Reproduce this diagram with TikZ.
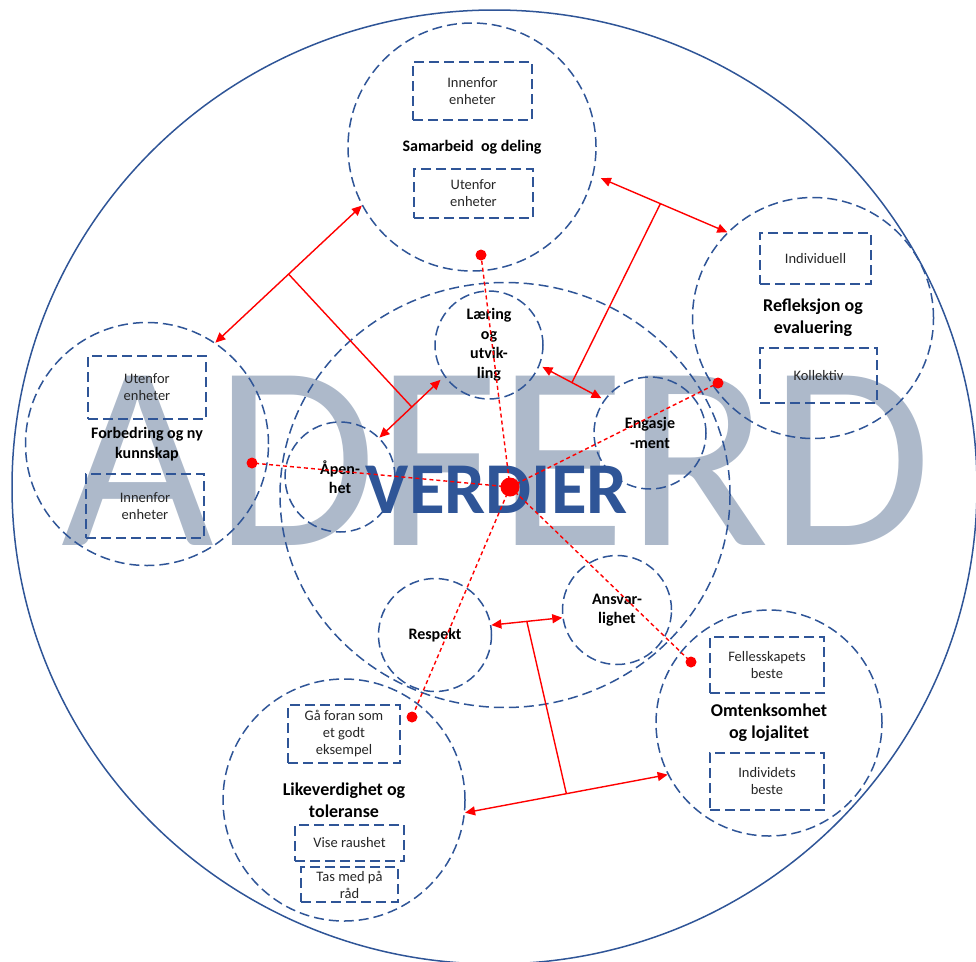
\documentclass[tikz,border=0pt]{standalone}
\usepackage{fontspec}
\setmainfont{Carlito}
\usetikzlibrary{arrows.meta,shapes.geometric}
\definecolor{kant}{RGB}{47,85,151}
\definecolor{vannmerke}{RGB}{173,185,202}
\definecolor{rod}{RGB}{255,0,0}
\begin{document}
\begin{tikzpicture}[x=1pt,y=-1pt,
    ring/.style={draw=kant,line width=1.5pt,dash pattern=on 10pt off 5pt,circle,inner sep=0pt,align=center,font=\bfseries\fontsize{18}{22}\selectfont},
    liten/.style={ring,font=\bfseries\fontsize{16}{19.5}\selectfont},
    boks/.style={draw=kant,line width=1.5pt,dash pattern=on 10pt off 5pt,rectangle,inner sep=0pt,align=center,text=black!85,font=\fontsize{14.5}{17}\selectfont},
    toveis/.style={draw=rod,line width=1.4pt,{Triangle[length=10pt,width=9pt]}-{Triangle[length=10pt,width=9pt]}},
    strek/.style={draw=rod,line width=1.4pt},
    stiplet/.style={draw=rod,line width=1.4pt,dash pattern=on 4pt off 3pt},
    prikk/.style={circle,fill=rod,inner sep=0pt,minimum size=11pt}]
        \useasboundingbox (0,0) rectangle (976,961);
        % bakgrunn
        \node[anchor=base west,inner sep=0pt,text=vannmerke,font=\fontsize{264}{264}\selectfont] (adferd) at (61,545) {ADFERD};
        \draw[draw=kant,line width=1.5pt] (494.5,487) ellipse [x radius=482.5pt, y radius=477pt];
        \node[draw=kant,line width=1.5pt,dash pattern=on 10pt off 5pt,ellipse,minimum width=450pt,minimum height=425pt,inner sep=0pt] (verdier) at (505,495) {};
        \node[anchor=base,inner sep=0pt,text=kant,font=\bfseries\fontsize{73}{73}\selectfont] (verditekst) at (497,513) {VERDIER};
        % store sirkler
        \node[ring,minimum size=248pt,font=\bfseries\fontsize{16}{19.5}\selectfont] (samarbeid) at (472,147) {Samarbeid~ og deling};
        \node[ring,minimum size=241pt] (refleksjon) at (813,318) {Refleksjon og\\evaluering};
        \node[ring,minimum size=243pt,font=\bfseries\fontsize{16}{19.5}\selectfont] (forbedring) at (147,444) {Forbedring og ny\\kunnskap};
        \node[ring,minimum size=242pt] (likeverdighet) at (344,800) {Likeverdighet og\\toleranse};
        \node[ring,minimum size=226pt] (omtenksomhet) at (769,723) {Omtenksomhet\\og lojalitet};
        % verdier
        \node[liten,minimum size=108pt] (laering) at (489,345) {\raisebox{-2pt}{\begin{tabular}{@{}c@{}}Læring\\og\\utvik-\\ling\end{tabular}}};
        \node[liten,minimum size=112pt] (engasjement) at (650,433) {Engasje\\-ment};
        \node[liten,minimum size=110pt] (apenhet) at (340,477) {Åpen-\\het};
        \node[liten,minimum size=113pt] (respekt) at (435,635) {Respekt};
        \node[liten,minimum size=109pt] (ansvarlighet) at (617,610) {Ansvar-\\lighet};
        % bokser
        \node[boks,minimum width=119pt,minimum height=58pt] (inn1) at (472.5,91) {Innenfor\\enheter};
        \node[boks,minimum width=119pt,minimum height=49pt] (ut1) at (473.5,193.5) {Utenfor\\enheter};
        \node[boks,minimum width=111pt,minimum height=51pt] (individuell) at (815.5,258.5) {Individuell};
        \node[boks,minimum width=117pt,minimum height=55pt] (kollektiv) at (818.5,375.5) {Kollektiv};
        \node[boks,minimum width=118pt,minimum height=63pt] (ut2) at (147,387.5) {Utenfor\\enheter};
        \node[boks,minimum width=118pt,minimum height=64pt] (inn2) at (145,506) {Innenfor\\enheter};
        \node[boks,minimum width=112pt,minimum height=58pt] (foran) at (344,734) {Gå foran som\\et godt\\eksempel};
        \node[boks,minimum width=109pt,minimum height=36pt] (raushet) at (349.5,843) {Vise raushet};
        \node[boks,minimum width=97pt,minimum height=35pt] (rad) at (349.5,884.5) {Tas med på\\råd};
        \node[boks,minimum width=114pt,minimum height=56pt] (fellesskap) at (767,665) {Fellesskapets\\beste};
        \node[boks,minimum width=114pt,minimum height=57pt] (individ) at (767,781.5) {Individets\\beste};
        % piler
        \draw[toveis] (forbedring.56) -- coordinate[pos=0.5] (m1) (samarbeid.208);
        \draw[toveis,shorten <=8pt] (samarbeid.347) -- coordinate[pos=0.5] (m2) (refleksjon.135);
        \draw[toveis,shorten >=5pt] (apenhet.45) -- coordinate[pos=0.5] (m3) (laering.215);
        \draw[toveis,shorten <=3pt,shorten >=3pt] (laering.338) -- coordinate[pos=0.5] (m4) (engasjement.144);
        \draw[toveis] (respekt.10) -- coordinate[pos=0.5] (m5) (ansvarlighet.188);
        \draw[toveis] (likeverdighet.354) -- coordinate[pos=0.5] (m6) (omtenksomhet.207);
        \draw[strek] (m1) -- (m3);
        \draw[strek] (m2) -- (m4);
        \draw[strek] (m5) -- (m6);
        % prikker
        \node[prikk] (p1) at (481,255) {};
        \node[prikk] (p2) at (252,463) {};
        \node[prikk] (p3) at (718,383) {};
        \node[prikk] (p4) at (691,662) {};
        \node[prikk] (p5) at (412,717) {};
        \node[prikk,minimum size=19pt] (kjerne) at (510,487) {};
        \foreach \n in {1,...,5}
            \draw[stiplet] (kjerne.center) -- (p\n.center);
\end{tikzpicture}
\end{document}
